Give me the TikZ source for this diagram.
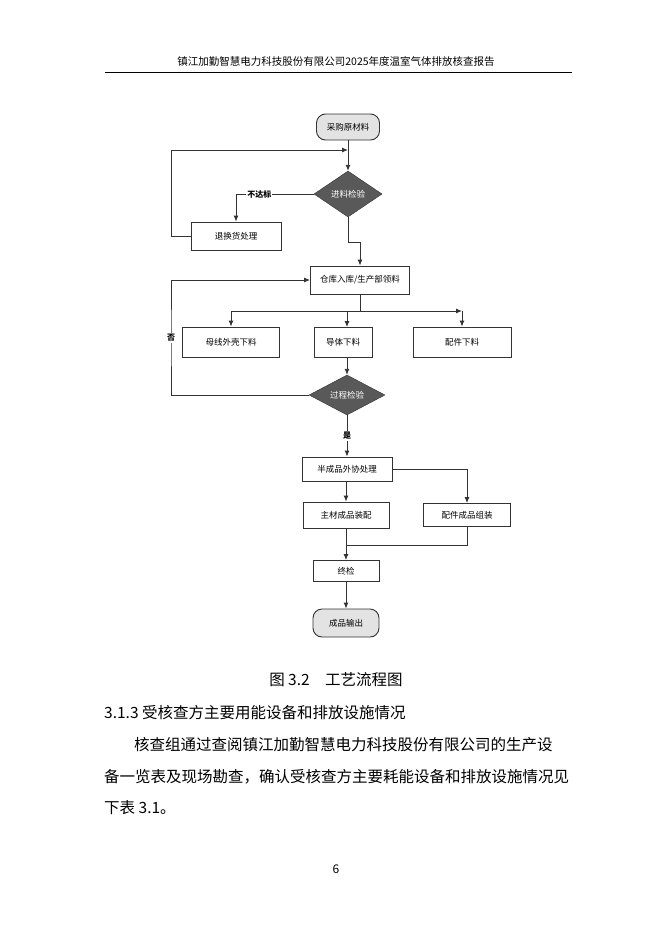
\documentclass[tikz,border=0pt]{standalone}
\usepackage{fontspec}
\newfontfamily\cjk{Noto Sans CJK SC}
\usetikzlibrary{shapes.geometric,arrows.meta}
\tikzset{
	box/.style={draw=black!80, line width=0.9pt, minimum height=28pt, font=\cjk\fontsize{8.5}{9}\selectfont, inner sep=1pt},
	term/.style={box, rounded corners=9pt, fill=gray!22},
	check/.style={diamond, aspect=1.5, fill=black!65, draw=black!80, text=white, font=\cjk\fontsize{8.5}{9}\selectfont, inner sep=0pt, minimum width=68pt, minimum height=46pt},
	flow/.style={draw=black!80, line width=0.9pt, -{Latex[length=6pt,width=5pt]}},
	line/.style={draw=black!80, line width=0.9pt},
	lbl/.style={font=\cjk\fontsize{8}{9}\selectfont\bfseries, fill=white, inner sep=1pt},
	page/.style={font=\cjk\fontsize{15.5}{16}\selectfont, inner sep=0pt}
}
\begin{document}
\begin{tikzpicture}[x=1pt,y=-1pt]
	\useasboundingbox (0,0) rectangle (672,951);
	\fill[white] (0,0) rectangle (672,951);
	% header
	\node[font=\cjk\fontsize{10.5}{11}\selectfont] (head) at (336,62) {镇江加勤智慧电力科技股份有限公司2025年度温室气体排放核查报告};
	\draw[line width=0.6pt] (105,72) -- (572,72);

	% flowchart
	\node[term, minimum width=63pt, minimum height=26pt] (buy) at (348,127) {采购原材料};
	\node[check] (inchk) at (348,194) {进料检验};
	\node[box, minimum width=90pt] (ret) at (236,236) {退换货处理};
	\node[box, minimum width=99pt] (store) at (360,280) {仓库入库/生产部领料};
	\node[box, minimum width=97pt, minimum height=30pt] (shell) at (231,342) {母线外壳下料};
	\node[box, minimum width=58pt, minimum height=30pt] (cond) at (343,342) {导体下料};
	\node[box, minimum width=98pt, minimum height=30pt] (part) at (462,342) {配件下料};
	\node[check, minimum width=76pt, minimum height=40pt] (prochk) at (347,395) {过程检验};
	\node[box, minimum width=90pt, minimum height=24pt] (semi) at (347,469) {半成品外协处理};
	\node[box, minimum width=86pt, minimum height=26pt] (main) at (346,515) {主材成品装配};
	\node[box, minimum width=87pt, minimum height=23pt] (asm) at (467,515) {配件成品组装};
	\node[box, minimum width=66pt, minimum height=21pt] (final) at (346,571) {终检};
	\node[term, minimum width=66pt] (out) at (346,623) {成品输出};

	\coordinate (j1) at (348,150);
	\draw[flow] (buy) -- (inchk);
	\draw[flow] (inchk.west) -| (ret.north) node[lbl, pos=0.35] {不达标};
	\draw[flow] (ret.west) -- (171,236) |- (j1);
	\draw[flow] (inchk.south) |- (360,242) -- (store.north);
	\draw[line] (store.south) -- (360,311);
	\draw[flow] (231,311) -- (462,311);
	\draw[flow] (231,311) -- (shell.north);
	\draw[flow] (347,311) -- (347,327);
	\draw[flow] (462,311) -- (part.north);
	\draw[flow] (cond.south -| prochk.north) -- (prochk.north);
	\draw[flow] (prochk.west) -| (171,338) node[lbl] {否} |- (store.west);
	\draw[flow] (prochk.south) -- (semi.north) node[lbl, midway] {是};
	\draw[flow] (semi.east) -| (asm.north);
	\draw[flow] (semi.south -| main.north) -- (main.north);
	\draw[line] (asm.south) |- (347,545);
	\draw[flow] (main.south -| final.north) -- (final.north);
	\draw[flow] (final) -- (out);

	% text of the page
	\node[font=\cjk\fontsize{15.5}{16}\selectfont] (cap) at (336,680) {图 3.2\quad 工艺流程图};
	\node[page, anchor=west] (sec) at (104,713) {3.1.3 受核查方主要用能设备和排放设施情况};
	\node[page, anchor=west] (par1) at (134,745) {核查组通过查阅镇江加勤智慧电力科技股份有限公司的生产设};
	\node[page, anchor=west] (par2) at (104,777) {备一览表及现场勘查，确认受核查方主要耗能设备和排放设施情况见};
	\node[page, anchor=west] (par3) at (104,808) {下表 3.1。};
	\node[font=\cjk\fontsize{12}{13}\selectfont] (pnum) at (336,869) {6};
\end{tikzpicture}
\end{document}
